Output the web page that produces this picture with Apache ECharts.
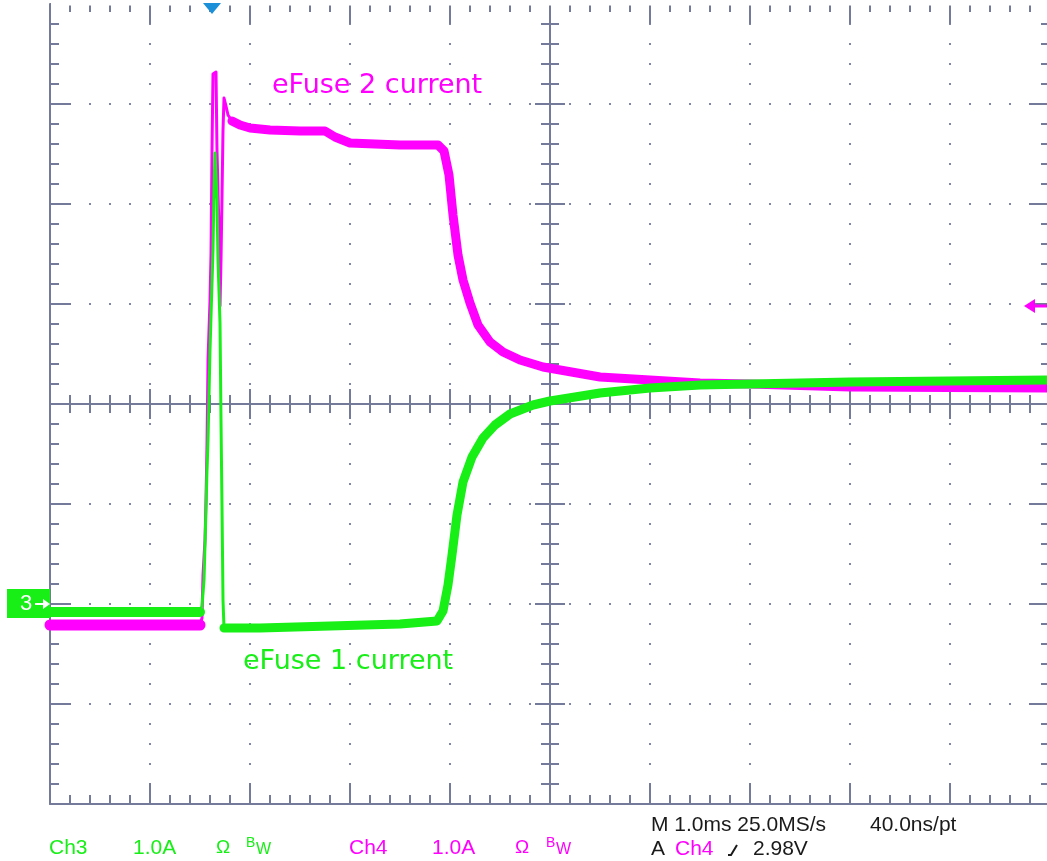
<!DOCTYPE html>
<html>
<head>
<meta charset="utf-8">
<script src="https://cdn.jsdelivr.net/npm/echarts@6/dist/echarts.min.js"></script>
<style>
  html, body { margin: 0; padding: 0; background: #ffffff; }
  #scope { width: 1047px; height: 861px; }
</style>
</head>
<body>
<div id="scope"></div>
<script>
// Time axis: 10 divisions of 1.0 ms; current axis: 8 divisions of 1.0 A,
// both channels referenced to the ground marker two divisions below centre.
const timeDivs = [0, 10];
const ampDivs = [-2, 6];

// Ch4 (magenta) – eFuse 2 current, [time ms, current A]
const ch4Before = [[0, -0.21], [0.70, -0.21], [1.50, -0.21]];
const ch4Spike = [
  [1.50, -0.21], [1.52, -0.14], [1.53, 0.29], [1.55, 0.64], [1.56, 1.04],
  [1.57, 1.59], [1.58, 2.44], [1.60, 3.04], [1.61, 3.49], [1.62, 4.54],
  [1.63, 5.30], [1.66, 5.32], [1.67, 4.54], [1.69, 3.74], [1.70, 2.98],
  [1.71, 3.44], [1.72, 4.07], [1.73, 4.74], [1.74, 5.06], [1.76, 4.98],
  [1.78, 4.89], [1.82, 4.83]
];
const ch4After = [
  [1.82, 4.83], [1.90, 4.79], [2.00, 4.76], [2.20, 4.74], [2.50, 4.73],
  [2.75, 4.73], [2.85, 4.67], [3.00, 4.61], [3.50, 4.59], [3.88, 4.59],
  [3.94, 4.53], [3.99, 4.29], [4.03, 3.89], [4.08, 3.49], [4.13, 3.24],
  [4.20, 3.01], [4.28, 2.79], [4.40, 2.62], [4.53, 2.52], [4.70, 2.44],
  [4.93, 2.37], [5.50, 2.27], [6.00, 2.24], [6.50, 2.21], [7.00, 2.20],
  [8.00, 2.17], [10.00, 2.16]
];

// Ch3 (green) – eFuse 1 current, [time ms, current A]
const ch3Before = [[0, -0.08], [0.70, -0.08], [1.50, -0.08]];
const ch3Spike = [
  [1.50, -0.08], [1.52, -0.02], [1.54, 0.24], [1.55, 0.59], [1.57, 1.34],
  [1.58, 1.64], [1.60, 2.54], [1.62, 3.21], [1.63, 3.54], [1.64, 4.14],
  [1.65, 4.51], [1.66, 4.49], [1.67, 4.04], [1.68, 3.44], [1.70, 2.81],
  [1.71, 1.84], [1.72, 0.97], [1.73, 0.04], [1.74, -0.24]
];
const ch3After = [
  [1.74, -0.24], [2.10, -0.24], [2.80, -0.22], [3.50, -0.20], [3.87, -0.17],
  [3.93, -0.07], [3.98, 0.19], [4.02, 0.49], [4.07, 0.89], [4.13, 1.22],
  [4.22, 1.47], [4.33, 1.66], [4.45, 1.79], [4.60, 1.90], [4.83, 1.99],
  [5.00, 2.03], [5.50, 2.11], [6.00, 2.16], [6.50, 2.19], [7.00, 2.20],
  [8.00, 2.22], [10.00, 2.24]
];

// Trigger settings
const triggerTime = 1.62;   // ms from left edge
const triggerLevel = 2.98;  // Ch4 level

// Readout text
const ch3Readout = ['Ch3', '1.0A'];
const ch4Readout = ['Ch4', '1.0A'];
const timebaseLine = ['M 1.0ms 25.0MS/s', '40.0ns/pt'];
const triggerLine = ['A', 'Ch4', '2.98V'];
const traceNames = ['eFuse 2 current', 'eFuse 1 current'];

const MAGENTA = '#ff00ff';
const GREEN = '#17ef17';
const FRAME = '#737a9a';
const DOTS = '#7f86a6';
const NONE = 'rgba(0,0,0,0)';
const READOUT_FONT = '"Liberation Sans", Arial, sans-serif';
const NAME_FONT = '"DejaVu Sans", sans-serif';

const chart = echarts.init(document.getElementById('scope'), null, { renderer: 'canvas' });

function frameAxis(kind, opts) {
  const ax = {
    type: 'value',
    min: kind === 'x' ? timeDivs[0] : ampDivs[0],
    max: kind === 'x' ? timeDivs[1] : ampDivs[1],
    interval: 1,
    position: opts.position,
    offset: opts.offset || 0,
    axisLine: {
      show: !!opts.line, onZero: false,
      lineStyle: { color: opts.line ? FRAME : NONE, width: 2 }
    },
    axisTick: { show: true, inside: opts.inside, length: opts.major, lineStyle: { color: FRAME, width: 2 } },
    minorTick: { show: true, splitNumber: 5, length: opts.minor, lineStyle: { color: FRAME, width: 2 } },
    axisLabel: { show: false },
    splitLine: { show: false },
    minorSplitLine: { show: false },
    silent: true
  };
  if (opts.grid) {
    ax.splitLine = {
      show: true,
      showMaxLine: false,
      lineStyle: { color: DOTS, width: 2, type: [2, 18], dashOffset: 1 }
    };
  }
  return ax;
}

function trace(data, color, width, z) {
  return {
    type: 'line',
    data: data,
    xAxisIndex: 0,
    yAxisIndex: 0,
    showSymbol: false,
    symbol: 'none',
    z: z,
    lineStyle: { color: color, width: width, join: 'round', cap: 'round' },
    silent: true,
    animation: false
  };
}

chart.setOption({
  animation: false,
  backgroundColor: '#ffffff',
  grid: {
    left: 50, top: 4, width: 1000, height: 800,
    show: false, outerBoundsMode: 'none', containLabel: false
  },
  xAxis: [
    // bottom border, also carries the dotted division grid
    frameAxis('x', { position: 'bottom', line: true, inside: true, major: 21, minor: 9, grid: true }),
    // top edge: ticks only, hanging down from the top of the graticule
    frameAxis('x', { position: 'top', line: false, inside: true, major: 20, minor: 8 }),
    // horizontal centre line with ticks on both sides
    frameAxis('x', { position: 'bottom', offset: -400, line: true, inside: true, major: 15, minor: 9 }),
    frameAxis('x', { position: 'bottom', offset: -400, line: false, inside: false, major: 15, minor: 9 })
  ],
  yAxis: [
    frameAxis('y', { position: 'left', line: true, inside: true, major: 21, minor: 9, grid: true }),
    frameAxis('y', { position: 'right', line: true, inside: true, major: 21, minor: 9 }),
    // vertical centre line with ticks on both sides
    frameAxis('y', { position: 'left', offset: -500, line: true, inside: true, major: 15, minor: 9 }),
    frameAxis('y', { position: 'left', offset: -500, line: false, inside: false, major: 15, minor: 9 })
  ],
  series: [
    trace(ch4Before, MAGENTA, 11, 3),
    trace(ch4Spike, MAGENTA, 3, 3),
    trace(ch4After, MAGENTA, 9, 3),
    trace(ch3Before, GREEN, 10, 4),
    trace(ch3Spike, GREEN, 3, 4),
    trace(ch3After, GREEN, 9, 4)
  ]
});

// Markers and readouts placed from the axis scales
const groundPx = chart.convertToPixel({ xAxisIndex: 0, yAxisIndex: 0 }, [0, 0]);
const trigPx = chart.convertToPixel({ xAxisIndex: 0, yAxisIndex: 0 }, [triggerTime, triggerLevel]);
const topLeft = chart.convertToPixel({ xAxisIndex: 0, yAxisIndex: 0 }, [timeDivs[0], ampDivs[1]]);
const gy = groundPx[1];
const tx = trigPx[0];
const ty = trigPx[1];

function label(x, y, text, color, size, family, extra) {
  return Object.assign({
    type: 'text', x: x, y: y, silent: true, z: 20,
    style: {
      text: text, fill: color, font: size + 'px ' + family,
      textAlign: 'left', textVerticalAlign: 'middle'
    }
  }, extra || {});
}

const graphics = [
  // open top edge of the graticule (only the tick marks show there)
  { type: 'rect', silent: true, z: 15,
    shape: { x: topLeft[0] + 1, y: 0, width: 1000, height: topLeft[1] + 1.5 },
    style: { fill: '#ffffff' } },
  // trigger position marker
  { type: 'polygon', silent: true, z: 20,
    shape: { points: [[tx - 9, 3], [tx + 9, 3], [tx, 14]] },
    style: { fill: '#1b8fd8' } },
  // trigger level arrow (right edge)
  { type: 'polygon', silent: true, z: 20,
    shape: { points: [[1024, ty], [1035, ty - 7], [1035, ty + 7]] },
    style: { fill: MAGENTA } },
  { type: 'line', silent: true, z: 20,
    shape: { x1: 1033, y1: ty, x2: 1047, y2: ty },
    style: { stroke: MAGENTA, lineWidth: 3 } },
  // Ch3 ground marker
  { type: 'rect', silent: true, z: 20,
    shape: { x: 7, y: gy - 15, width: 43, height: 29 },
    style: { fill: GREEN } },
  label(20, gy, '3', '#ffffff', 22, READOUT_FONT),
  { type: 'line', silent: true, z: 21,
    shape: { x1: 35, y1: gy, x2: 45, y2: gy },
    style: { stroke: '#ffffff', lineWidth: 2 } },
  { type: 'polygon', silent: true, z: 21,
    shape: { points: [[50, gy], [43, gy - 5], [43, gy + 5]] },
    style: { fill: '#ffffff' } },

  // trace names
  label(272, 86, traceNames[0], MAGENTA, 27, NAME_FONT),
  label(243, 662, traceNames[1], GREEN, 27, NAME_FONT),

  // channel readouts
  label(49, 848, ch3Readout[0], GREEN, 21, READOUT_FONT),
  label(133, 848, ch3Readout[1], GREEN, 21, READOUT_FONT),
  label(216, 848, 'Ω', GREEN, 19, READOUT_FONT),
  label(246, 843, 'B', GREEN, 14, READOUT_FONT),
  label(256, 850, 'W', GREEN, 16, READOUT_FONT),
  label(349, 848, ch4Readout[0], MAGENTA, 21, READOUT_FONT),
  label(432, 848, ch4Readout[1], MAGENTA, 21, READOUT_FONT),
  label(515, 848, 'Ω', MAGENTA, 19, READOUT_FONT),
  label(546, 843, 'B', MAGENTA, 14, READOUT_FONT),
  label(556, 850, 'W', MAGENTA, 16, READOUT_FONT),

  // timebase / trigger readouts
  label(651, 825, timebaseLine[0], '#1a1a1a', 21, READOUT_FONT),
  label(870, 825, timebaseLine[1], '#1a1a1a', 21, READOUT_FONT),
  label(651, 849, triggerLine[0], '#1a1a1a', 21, READOUT_FONT),
  label(675, 849, triggerLine[1], MAGENTA, 21, READOUT_FONT),
  { type: 'polyline', silent: true, z: 20,
    shape: { points: [[728, 855], [731, 855], [737, 845]] },
    style: { stroke: '#1a1a1a', lineWidth: 2, fill: null } },
  label(753, 849, triggerLine[2], '#1a1a1a', 21, READOUT_FONT)
];

chart.setOption({ graphic: graphics });
</script>
</body>
</html>
